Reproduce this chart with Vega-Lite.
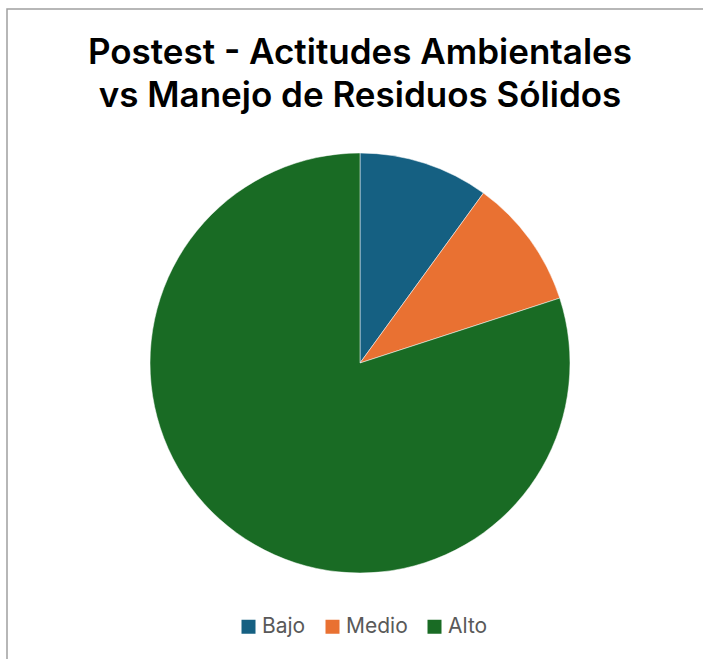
{
  "$schema": "https://vega.github.io/schema/vega-lite/v6.json",
  "autosize": "none",
  "width": 706,
  "height": 708,
  "padding": {"left": 7, "top": 9, "right": 0, "bottom": 0},
  "background": "white",
  "view": {"stroke": "#a0a0a0", "strokeWidth": 1.5, "fill": "white"},
  "title": {
    "text": ["Postest - Actitudes Ambientales", "vs Manejo de Residuos Sólidos"],
    "font": "Inter",
    "fontSize": 35,
    "fontWeight": 600,
    "color": "#000000",
    "anchor": "middle",
    "baseline": "alphabetic",
    "lineHeight": 43,
    "offset": -133
  },
  "data": {
    "values": [
      {"categoria": "Bajo", "valor": 10, "orden": 1},
      {"categoria": "Medio", "valor": 10, "orden": 2},
      {"categoria": "Alto", "valor": 80, "orden": 3}
    ]
  },
  "mark": {"type": "arc", "radius": 210, "stroke": "white", "strokeWidth": 0.5},
  "encoding": {
    "theta": {"field": "valor", "type": "quantitative", "stack": true},
    "order": {"field": "orden", "type": "quantitative"},
    "color": {
      "field": "categoria",
      "type": "nominal",
      "sort": ["Bajo", "Medio", "Alto"],
      "scale": {"domain": ["Bajo", "Medio", "Alto"], "range": ["#156082", "#E97132", "#196B24"]},
      "legend": {
        "title": null,
        "orient": "none",
        "direction": "horizontal",
        "legendX": 231,
        "legendY": 607,
        "padding": 0,
        "symbolType": "square",
        "symbolSize": 196,
        "symbolStrokeWidth": 0,
        "labelFont": "Inter",
        "labelFontSize": 21,
        "labelColor": "#595959",
        "labelOffset": 3,
        "columnPadding": 16
      }
    }
  }
}
